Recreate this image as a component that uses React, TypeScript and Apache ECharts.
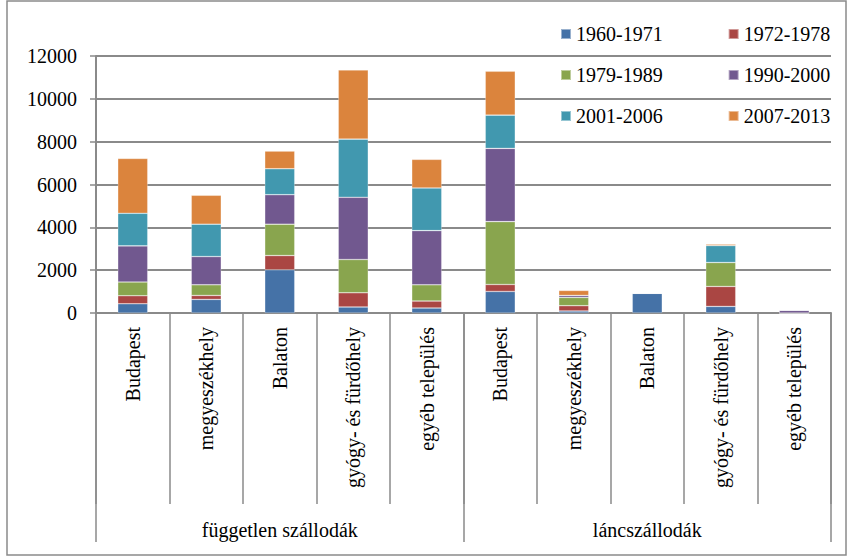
import React, { useEffect, useRef } from "react";
import * as echarts from "echarts";

const categories = [
  "Budapest",
  "megyeszékhely",
  "Balaton",
  "gyógy- és fürdőhely",
  "egyéb település",
  "Budapest",
  "megyeszékhely",
  "Balaton",
  "gyógy- és fürdőhely",
  "egyéb település",
];
const groups = ["független szállodák", "láncszállodák"];
const periods = ["1960-1971", "1972-1978", "1979-1989", "1990-2000", "2001-2006", "2007-2013"];

const s1960 = [430, 634, 2017, 280, 233, 1006, 93, 920, 307, 0];
const s1972 = [375, 186, 666, 666, 326, 326, 247, 0, 932, 0];
const s1979 = [640, 498, 1463, 1551, 759, 2935, 387, 0, 1118, 0];
const s1990 = [1690, 1318, 1378, 2906, 2530, 3419, 93, 0, 0, 125];
const s2001 = [1520, 1510, 1212, 2716, 1988, 1551, 0, 0, 792, 0];
const s2007 = [2560, 1351, 824, 3228, 1337, 2049, 233, 0, 65, 0];
const seriesValues = [s1960, s1972, s1979, s1990, s2001, s2007];
const colors = ["#4572a7", "#aa4643", "#89a54e", "#71588f", "#4198af", "#db843d"];

const yTicks = { min: 0, max: 12000, interval: 2000 };

const FONT = "Liberation Serif";
const GRAY = "#8a8a8a";

export default function App() {
  const ref = useRef<HTMLDivElement>(null);
  useEffect(() => {
    if (!ref.current) return;
    const chart = echarts.init(ref.current, undefined, { renderer: "svg" });
    const legendRow = (i: number, top: number) => ({
      data: [periods[i], periods[i + 1]],
      left: 560,
      top,
      orient: "horizontal",
      icon: "rect",
      itemWidth: 10,
      itemHeight: 10,
      itemGap: 65,
      padding: 0,
      textStyle: { fontFamily: FONT, fontSize: 20, color: "#000" },
    });
    chart.setOption({
      animation: false,
      backgroundColor: "#fff",
      color: colors,
      textStyle: { fontFamily: FONT },
      grid: { left: 96, right: 21, top: 56, bottom: 245, containLabel: false },
      legend: [legendRow(0, 24), legendRow(2, 65), legendRow(4, 106)],
      xAxis: [
        {
          type: "category",
          data: categories,
          position: "bottom",
          axisLine: { show: true, lineStyle: { color: GRAY, width: 2 } },
          axisTick: { show: true, interval: 0, length: 191, lineStyle: { color: GRAY, width: 1.5 } },
          axisLabel: {
            interval: 0,
            rotate: 90,
            margin: 14,
            fontFamily: FONT,
            fontSize: 20,
            color: "#000",
          },
          splitLine: { show: false },
        },
        {
          type: "category",
          data: groups,
          position: "bottom",
          offset: 0,
          axisLine: { show: false },
          axisTick: { show: true, interval: 0, length: 229, lineStyle: { color: GRAY, width: 1.5 } },
          axisLabel: {
            interval: 0,
            margin: 207,
            fontFamily: FONT,
            fontSize: 20,
            color: "#000",
          },
          splitLine: { show: false },
        },
      ],
      yAxis: {
        type: "value",
        min: yTicks.min,
        max: yTicks.max,
        interval: yTicks.interval,
        axisLine: { show: true, lineStyle: { color: GRAY, width: 2 } },
        axisTick: { show: true, inside: false, length: 6, lineStyle: { color: GRAY, width: 1.5 } },
        axisLabel: {
          margin: 19,
          fontFamily: FONT,
          fontSize: 20,
          color: "#000",
          formatter: (v: number) => String(v),
        },
        splitLine: { show: true, lineStyle: { color: GRAY, width: 2 } },
      },
      series: seriesValues.map((vals, i) => ({
        name: periods[i],
        type: "bar",
        stack: "total",
        xAxisIndex: 0,
        barWidth: 30,
        data: vals,
        itemStyle: { color: colors[i], borderColor: "rgba(255,255,255,0.45)", borderWidth: 0.6 },
      })),
      graphic: [
        {
          type: "rect",
          shape: { x: 7, y: 1, width: 839, height: 554 },
          style: { fill: "none", stroke: GRAY, lineWidth: 1.5 },
          silent: true,
        },
      ],
    });
    return () => chart.dispose();
  }, []);
  return (
    <div
      ref={ref}
      style={{ position: "absolute", left: 0, top: 0, width: 852, height: 558, background: "#fff" }}
    />
  );
}
